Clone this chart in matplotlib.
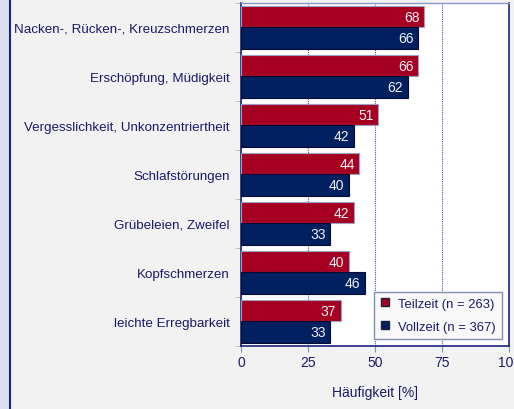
import matplotlib.pyplot as plt
import numpy as np
from matplotlib.patches import Rectangle
from matplotlib.lines import Line2D

plt.rcParams['font.family'] = ['Liberation Sans', 'DejaVu Sans']

# Daten
kategorien = ["Nacken-, Rücken-, Kreuzschmerzen", "Erschöpfung, Müdigkeit",
              "Vergesslichkeit, Unkonzentriertheit", "Schlafstörungen",
              "Grübeleien, Zweifel", "Kopfschmerzen", "leichte Erregbarkeit"]
teilzeit = [68, 66, 51, 44, 42, 40, 37]
vollzeit = [66, 62, 42, 40, 33, 46, 33]
serien = ["Teilzeit (n = 263)", "Vollzeit (n = 367)"]
xticks = [0, 25, 50, 75, 100]

rot = '#a50021'
blau = '#002060'
schrift = '#1a1a6a'

fig = plt.figure(figsize=(5.14, 4.10), dpi=100, facecolor='#f2f2f2')
ax = fig.add_axes([0.4695, 0.1544, 0.5215, 0.8358])
ax.set_facecolor('white')

# linker Streifen
fig.patches.append(Rectangle((0, 0), 9 / 514, 1, transform=fig.transFigure,
                             facecolor='#dae0f2', edgecolor='none', zorder=0))
fig.add_artist(Line2D([9.5 / 514, 9.5 / 514], [0, 1], transform=fig.transFigure,
                      color='#1a237e', lw=1.5))

y = np.arange(len(kategorien))
h = 0.435
ax.barh(y - h / 2, teilzeit, height=h, color=rot, edgecolor='#9aa0c8', lw=0.8, zorder=3)
ax.barh(y + h / 2, vollzeit, height=h, color=blau, edgecolor='#0a0a30', lw=0.8, zorder=3)

for i in range(len(kategorien)):
    ax.text(teilzeit[i] - 1.6, y[i] - h / 2, str(teilzeit[i]), ha='right', va='center',
            color='#f0f0f8', fontsize=10, zorder=4)
    ax.text(vollzeit[i] - 1.6, y[i] + h / 2, str(vollzeit[i]), ha='right', va='center',
            color='#f0f0f8', fontsize=10, zorder=4)

ax.set_xlim(0, 100)
ax.set_ylim(len(kategorien) - 0.5, -0.5)
ax.set_xticks(xticks)
ax.set_xticklabels([str(t) for t in xticks], color=schrift, fontsize=10)
ax.tick_params(axis='x', length=4, color='#8090b0', pad=3)
ax.set_yticks(y)
ax.set_yticklabels(kategorien, color=schrift, fontsize=9.6)
ax.tick_params(axis='y', length=0, pad=8.5)
ax.set_yticks(np.arange(len(kategorien) + 1) - 0.5, minor=True)
ax.tick_params(axis='y', which='minor', length=4, color='#b0b8d0')

ax.grid(axis='x', linestyle=(0, (1, 1)), color='#4a5a9a', lw=0.8, zorder=1)
ax.set_axisbelow(True)

for s in ['left', 'bottom', 'right']:
    ax.spines[s].set_color('#1a237e')
    ax.spines[s].set_linewidth(1.2)
ax.spines['top'].set_color('#8898c8')
ax.spines['top'].set_linewidth(1.0)

ax.set_xlabel('Häufigkeit [%]', color=schrift, fontsize=10, labelpad=11)

handles = [Line2D([], [], marker='s', ls='none', markersize=6, markerfacecolor=rot,
                  markeredgecolor='#202040'),
           Line2D([], [], marker='s', ls='none', markersize=6, markerfacecolor=blau,
                  markeredgecolor='#202040')]
leg = ax.legend(handles, serien, loc='lower right', bbox_to_anchor=(0.972, 0.02),
                borderaxespad=0, fancybox=False, fontsize=9.4, labelcolor=schrift,
                framealpha=1, edgecolor='#8090b0', labelspacing=0.85,
                handletextpad=0.7, handlelength=0.7, borderpad=0.45)
leg.get_frame().set_facecolor('#f8f8f8')
leg.set_zorder(5)

plt.savefig('out.png', dpi=100, facecolor=fig.get_facecolor())
